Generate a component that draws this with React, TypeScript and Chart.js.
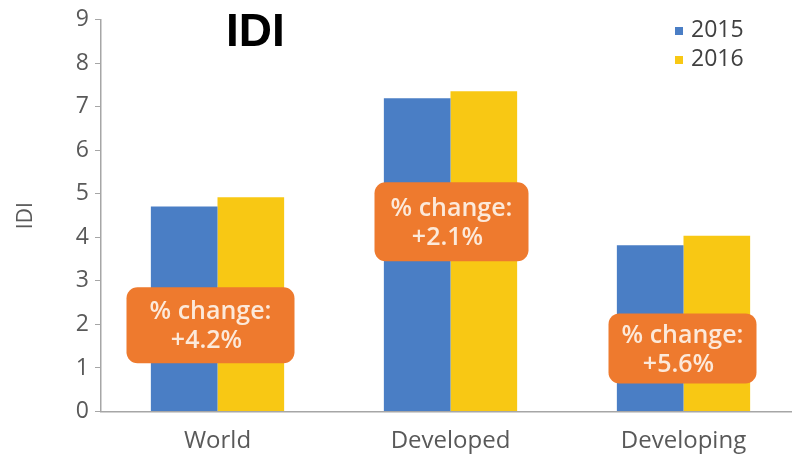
import React, { useEffect, useRef } from "react";
import { Chart, registerables } from "chart.js";

Chart.register(...registerables);

const categories = ["World", "Developed", "Developing"];
const seriesLabels = ["2015", "2016"];
const values2015 = [4.71, 7.2, 3.82];
const values2016 = [4.92, 7.36, 4.04];
const changeLabels = ["+4.2%", "+2.1%", "+5.6%"];
const yTicks = [0, 1, 2, 3, 4, 5, 6, 7, 8, 9];

const BLUE = "#4A7EC5";
const YELLOW = "#F8C814";
const ORANGE = "#EE7A2E";
const AXIS = "#A6A6A6";
const TEXT = "#595959";
const FONT = "'Open Sans', sans-serif";

// box layout for change annotations: [dxPx, centerValue, width, height]
const boxLayout = [
  [-7, 1.98, 168, 76],
  [1, 4.36, 154, 79],
  [-1, 1.45, 148, 70],
];

const overlayPlugin = {
  id: "overlay",
  afterDatasetsDraw(chart: any) {
    const { ctx, scales } = chart;
    const xs = scales.x;
    const ys = scales.y;
    ctx.save();
    changeLabels.forEach((lab, i) => {
      const [dx, v, w, h] = boxLayout[i];
      const cx = xs.getPixelForValue(i) + dx;
      const cy = ys.getPixelForValue(v);
      const x0 = cx - w / 2;
      const y0 = cy - h / 2;
      ctx.fillStyle = ORANGE;
      ctx.beginPath();
      (ctx as any).roundRect(x0, y0, w, h, 11);
      ctx.fill();
      ctx.fillStyle = "#FCE9DA";
      ctx.font = `600 25px ${FONT}`;
      ctx.textAlign = "center";
      ctx.textBaseline = "middle";
      ctx.fillText("% change:", cx, cy - 13);
      ctx.fillText(lab, cx - 4, cy + 16);
    });
    ctx.restore();
  },
  afterDraw(chart: any) {
    const { ctx } = chart;
    ctx.save();
    ctx.fillStyle = "#000";
    ctx.font = "bold 46px 'Liberation Sans', Arial, sans-serif";
    ctx.textAlign = "left";
    ctx.textBaseline = "alphabetic";
    ctx.fillText("IDI", 226, 46);
    const colors = [BLUE, YELLOW];
    seriesLabels.forEach((s, i) => {
      const y = 30 + i * 29;
      ctx.fillStyle = colors[i];
      ctx.fillRect(675, y - 3, 8, 8);
      ctx.fillStyle = "#404040";
      ctx.font = `23px ${FONT}`;
      ctx.textAlign = "left";
      ctx.textBaseline = "middle";
      ctx.fillText(s, 691, y);
    });
    ctx.restore();
  },
};

export default function App() {
  const ref = useRef<HTMLCanvasElement>(null);
  useEffect(() => {
    if (!ref.current) return;
    const chart = new Chart(ref.current, {
      type: "bar",
      data: {
        labels: categories,
        datasets: [
          { label: seriesLabels[0], data: values2015, backgroundColor: BLUE, categoryPercentage: 0.572, barPercentage: 1 },
          { label: seriesLabels[1], data: values2016, backgroundColor: YELLOW, categoryPercentage: 0.572, barPercentage: 1 },
        ],
      },
      options: {
        animation: false,
        responsive: false,
        devicePixelRatio: 1,
        layout: { padding: { top: 17.5, left: 0, right: 0, bottom: 0 } },
        plugins: { legend: { display: false }, title: { display: false }, tooltip: { enabled: false } },
        scales: {
          x: {
            grid: { display: true, drawOnChartArea: false, drawTicks: false, color: AXIS },
            border: { display: true, color: AXIS, width: 1.5 },
            ticks: { color: TEXT, font: { family: FONT, size: 24 }, padding: 15 },
            afterFit: (s: any) => { s.height = 47.5; },
          },
          y: {
            min: 0,
            max: 9,
            afterBuildTicks: (s: any) => { s.ticks = yTicks.map((v) => ({ value: v })); },
            grid: { display: true, drawOnChartArea: false, drawTicks: true, tickLength: 6, color: AXIS },
            border: { display: true, color: AXIS, width: 1.5 },
            ticks: { color: TEXT, font: { family: FONT, size: 23 }, padding: 6 },
            title: { display: true, text: "IDI", color: TEXT, font: { family: FONT, size: 21 }, padding: { top: 13, bottom: 0 } },
            afterFit: (s: any) => { s.width = 101; },
          },
        },
      },
      plugins: [overlayPlugin],
    });
    return () => chart.destroy();
  }, []);
  return (
    <div style={{ position: "fixed", left: 0, top: 0, width: 800, height: 459, background: "#fff" }}>
      <canvas ref={ref} width={800} height={459} style={{ width: 800, height: 459, display: "block" }} />
    </div>
  );
}
